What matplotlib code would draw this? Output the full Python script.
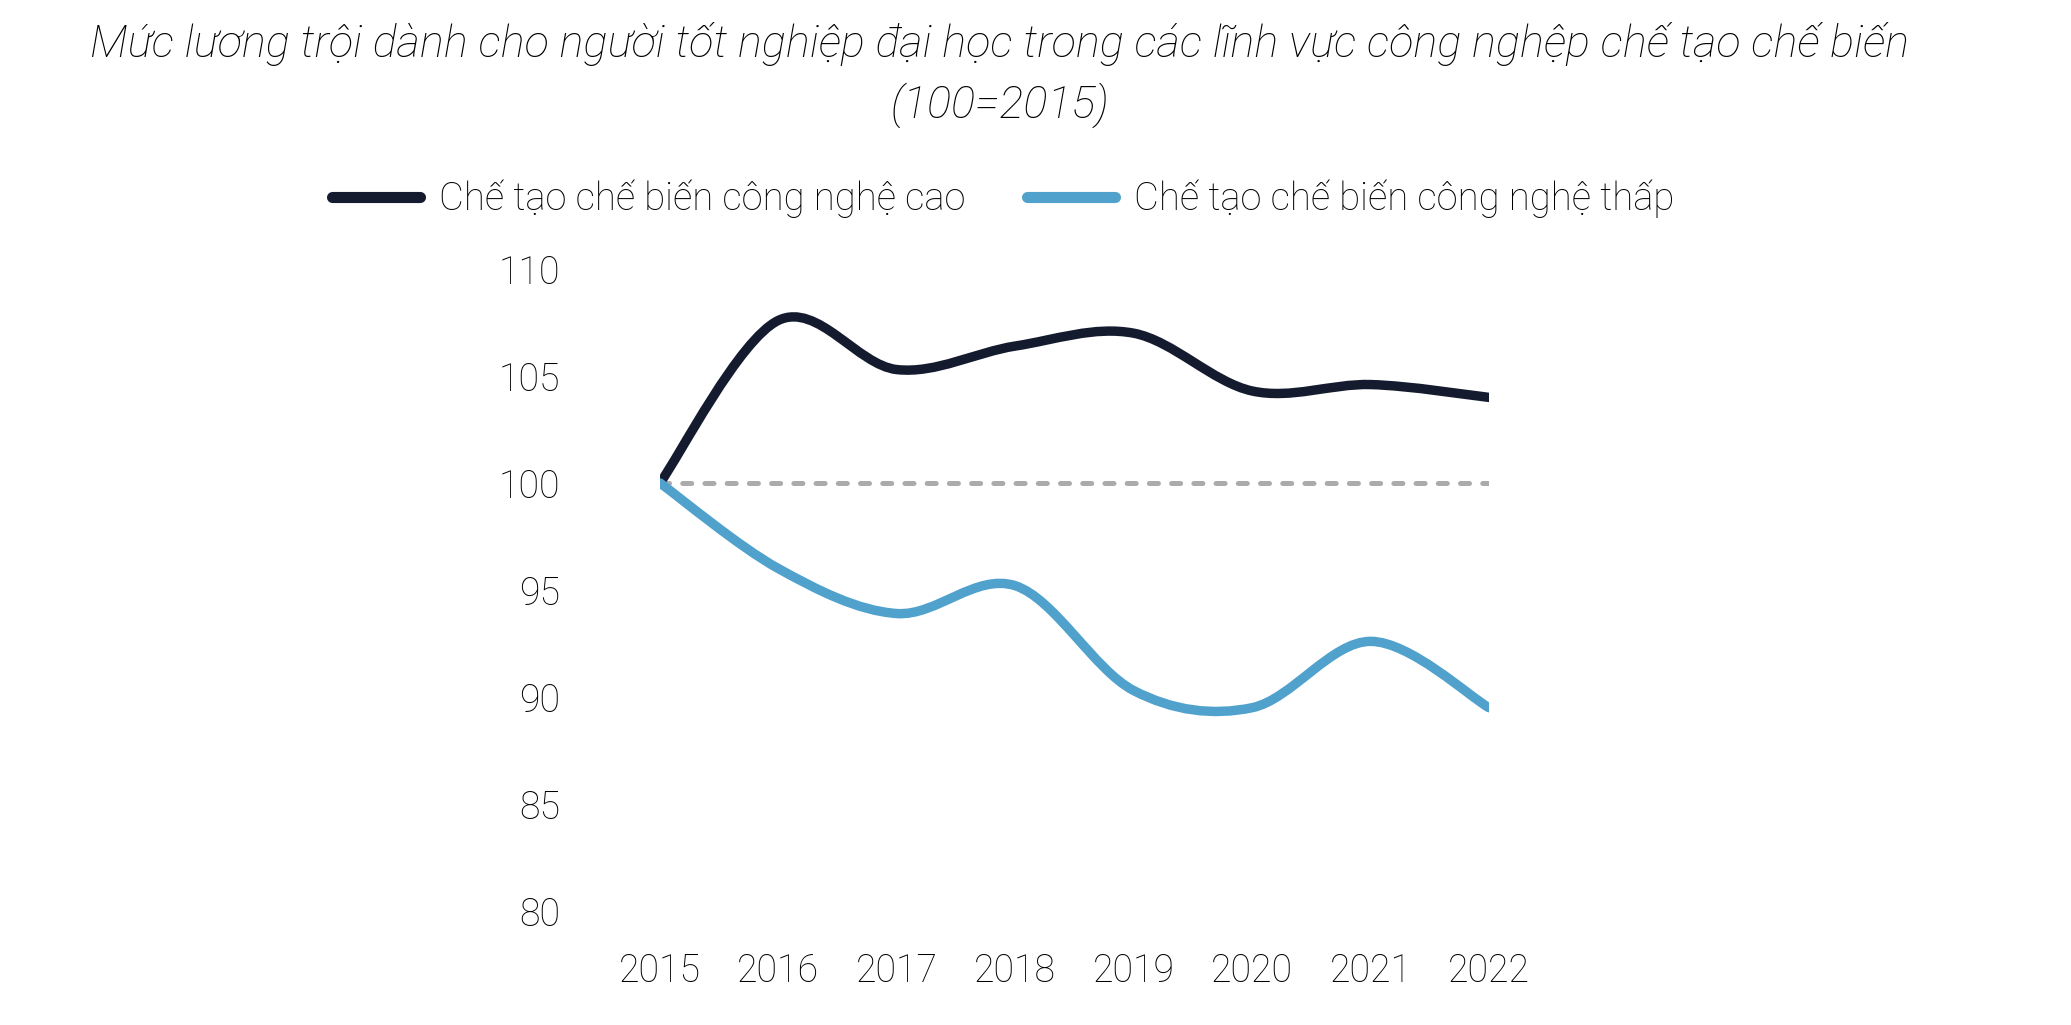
import matplotlib
matplotlib.use("Agg")
import matplotlib.pyplot as plt
from matplotlib.path import Path
from matplotlib.patches import PathPatch
from matplotlib.lines import Line2D

plt.rcParams["font.family"] = ["Roboto", "DejaVu Sans"]
plt.rcParams["font.weight"] = "light"
plt.rcParams["lines.scale_dashes"] = False

years = [2015, 2016, 2017, 2018, 2019, 2020, 2021, 2022]
high_tech = [100, 107.6, 105.3, 106.4, 107.0, 104.3, 104.6, 104.0]
low_tech = [100, 96.0, 93.9, 95.2, 90.3, 89.5, 92.6, 89.5]
baseline = [100] * len(years)

labels = ["Chế tạo chế biến công nghệ cao", "Chế tạo chế biến công nghệ thấp"]
title = ("Mức lương trội dành cho người tốt nghiệp đại học trong các lĩnh vực công nghệp chế tạo chế biến\n"
         "(100=2015)")

DARK = "#141b2e"
BLUE = "#50a2cd"
GREY = "#ababab"
TEXT = "#000000"


def smooth_path(xs, ys):
    # excel-style smoothed line: catmull-rom as cubic bezier segments
    pts = list(zip(xs, ys))
    n = len(pts)
    verts = [pts[0]]
    codes = [Path.MOVETO]
    for i in range(n - 1):
        p0 = pts[max(i - 1, 0)]
        p1 = pts[i]
        p2 = pts[i + 1]
        p3 = pts[min(i + 2, n - 1)]
        c1 = (p1[0] + (p2[0] - p0[0]) / 6, p1[1] + (p2[1] - p0[1]) / 6)
        c2 = (p2[0] - (p3[0] - p1[0]) / 6, p2[1] - (p3[1] - p1[1]) / 6)
        verts += [c1, c2, p2]
        codes += [Path.CURVE4] * 3
    return Path(verts, codes)


fig = plt.figure(figsize=(20.71, 10.25), dpi=100)
ax = fig.add_axes([660 / 2071, 1 - 911 / 1025, (1489 - 660) / 2071, (911 - 269) / 1025])

ax.plot(years, baseline, color=GREY, lw=3.6, dashes=(6.5, 9.5),
        dash_capstyle="round", zorder=1)
for series, col in [(high_tech, DARK), (low_tech, BLUE)]:
    ax.add_patch(PathPatch(smooth_path(years, series), fill=False, edgecolor=col,
                           lw=6.8, capstyle="round", joinstyle="round", zorder=2))

ax.set_xlim(2015, 2022)
ax.set_ylim(80, 110)
ax.set_xticks(years)
ax.set_yticks(range(80, 111, 5))
for s in ax.spines.values():
    s.set_visible(False)
ax.tick_params(axis="both", length=0, labelsize=27, labelcolor=TEXT)
ax.tick_params(axis="y", pad=72)
ax.tick_params(axis="x", pad=30)

fig.text(1000 / 2071, 1 - 75 / 1025, title, ha="center", va="center",
         fontsize=32.5, style="italic", fontweight="light", color=TEXT, linespacing=1.48)

handles = [Line2D([], [], color=DARK, lw=8, solid_capstyle="round"),
           Line2D([], [], color=BLUE, lw=8, solid_capstyle="round")]
fig.legend(handles, labels, loc="center", bbox_to_anchor=(1003 / 2071, 1 - 199 / 1025),
           ncol=2, frameon=False, handlelength=2.3, handletextpad=0.5, columnspacing=1.6,
           prop={"size": 27.5, "weight": "light"}, labelcolor=TEXT)

fig.savefig("out.png", dpi=100)
